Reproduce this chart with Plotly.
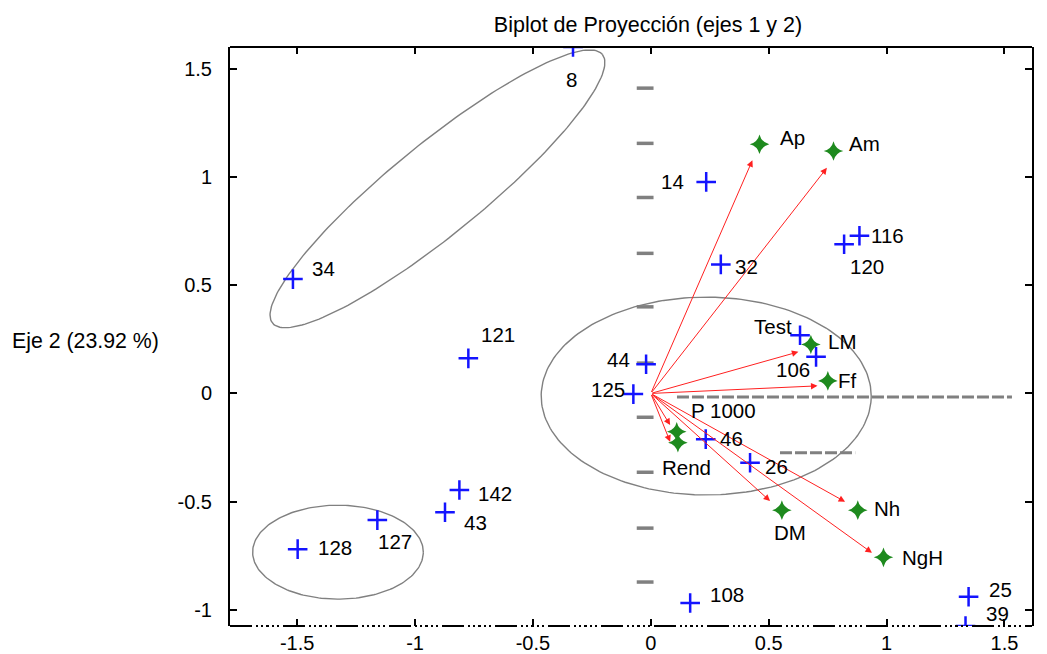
import numpy as np
import plotly.graph_objects as go

# ---------------- data ----------------
obs_labels = ["8", "34", "14", "32", "116", "120", "Test", "106", "44", "125",
              "46", "26", "108", "25", "39", "121", "142", "43", "127", "128"]
obs_x = [-0.33, -1.518, 0.235, 0.297, 0.885, 0.820, 0.633, 0.701, -0.020, -0.074,
         0.233, 0.421, 0.167, 1.348, 1.335, -0.774, -0.812, -0.873, -1.160, -1.498]
obs_y = [1.600, 0.528, 0.977, 0.596, 0.728, 0.689, 0.269, 0.169, 0.135, -0.003,
         -0.211, -0.320, -0.968, -0.939, -1.074, 0.162, -0.446, -0.549, -0.585, -0.719]

var_labels = ["Ap", "Am", "LM", "Ff", "P 1000", "Rend", "DM", "Nh", "NgH"]
var_x = [0.461, 0.775, 0.679, 0.751, 0.110, 0.115, 0.556, 0.878, 0.987]
var_y = [1.151, 1.120, 0.226, 0.058, -0.177, -0.228, -0.539, -0.539, -0.757]
arrow_x = [0.431, 0.747, 0.626, 0.707, 0.082, 0.082, 0.506, 0.824, 0.938]
arrow_y = [1.077, 1.042, 0.192, 0.035, -0.146, -0.223, -0.497, -0.500, -0.736]

guide_dash_x = -0.024
guide_dash_y = [1.41, 1.155, 0.905, 0.647, 0.40, 0.14, -0.11, -0.364, -0.622, -0.871]

x_ticks = [-1.5, -1, -0.5, 0, 0.5, 1, 1.5]
y_ticks = [-1, -0.5, 0, 0.5, 1, 1.5]

title_text = "Biplot de Proyección (ejes 1 y 2)"
ytitle_text = "Eje 2 (23.92 %)"

# ---------------- styling ----------------
FONT = "Liberation Sans, Arial, sans-serif"
GRAY = "#808080"
BLUE = "#1414ff"
GREEN = "#1e8a1e"
RED = "#ff2020"

# label offsets in pixels (dx right, dy down)
obs_off = [(-2, 32), (31, -11), (-34, 0), (26, 2), (28, 0), (23, 22), (-27, -9),
           (-23, 13), (-28, -5), (-25, -5), (26, -1), (26, 4), (37, -9), (32, -7),
           (32, -13), (30, -24), (36, 3), (30, 10), (18, 21), (37, -2)]
var_off = [(33, -7), (31, -7), (31, -3), (20, 0), (47, -21), (9, 25), (8, 22),
           (29, -2), (39, 0)]

fig = go.Figure()

# ellipses
def ellipse(cx, cy, ax_, ay_, bx_, by_):
    t = np.linspace(0, 2 * np.pi, 200)
    return cx + ax_ * np.cos(t) + bx_ * np.sin(t), cy + ay_ * np.cos(t) + by_ * np.sin(t)

for (cx, cy, a1, a2, b1, b2) in [(-0.905, 0.945, 0.70, 0.62, 0.12, -0.165),
                                 (0.235, -0.012, 0.700, 0.0, 0.0, 0.457),
                                 (-1.327, -0.733, 0.362, 0.0, 0.0, 0.217)]:
    ex, ey = ellipse(cx, cy, a1, a2, b1, b2)
    fig.add_trace(go.Scatter(x=ex, y=ey, mode="lines", line=dict(color=GRAY, width=1.4),
                             hoverinfo="skip", showlegend=False))

# vertical guide dashes
fig.add_trace(go.Scatter(x=[guide_dash_x] * len(guide_dash_y), y=guide_dash_y, mode="markers",
                         marker=dict(symbol="line-ew", size=12, line=dict(color=GRAY, width=3.5)),
                         hoverinfo="skip", showlegend=False))

# horizontal dashed guides
fig.add_shape(type="line", x0=0.111, x1=1.532, y0=-0.016, y1=-0.016, xref="x", yref="y",
              line=dict(color=GRAY, width=3, dash="12px,3px"))
fig.add_shape(type="line", x0=0.548, x1=0.867, y0=-0.274, y1=-0.274, xref="x", yref="y",
              line=dict(color=GRAY, width=3, dash="12px,3px"))

# arrows
for tx, ty in zip(arrow_x, arrow_y):
    fig.add_annotation(x=tx, y=ty, ax=0, ay=0, xref="x", yref="y", axref="x", ayref="y",
                       text="", showarrow=True, arrowhead=2, arrowsize=1.3, arrowwidth=1,
                       arrowcolor=RED)

# observations
fig.add_trace(go.Scatter(x=obs_x, y=obs_y, mode="markers",
                         marker=dict(symbol="cross-thin", size=14, color=BLUE,
                                     line=dict(color=BLUE, width=2.5)),
                         showlegend=False, hovertext=obs_labels))

# variables
fig.add_trace(go.Scatter(x=var_x, y=var_y, mode="markers",
                         marker=dict(symbol="star-diamond", size=14, color=GREEN,
                                     line=dict(width=0)),
                         showlegend=False, hovertext=var_labels))

for lab, x, y, (dx, dy) in zip(obs_labels, obs_x, obs_y, obs_off):
    fig.add_annotation(x=x, y=y, text=lab, showarrow=False, xshift=dx, yshift=-dy,
                       font=dict(family=FONT, size=20.5, color="black"))
for lab, x, y, (dx, dy) in zip(var_labels, var_x, var_y, var_off):
    fig.add_annotation(x=x, y=y, text=lab, showarrow=False, xshift=dx, yshift=-dy,
                       font=dict(family=FONT, size=20.5, color="black"))

# y axis title (horizontal)
fig.add_annotation(text=ytitle_text, xref="paper", yref="paper", x=-0.274, y=0.492,
                   xanchor="left", yanchor="middle", showarrow=False,
                   font=dict(family=FONT, size=21.3, color="black"))

# top solid and bottom dash-dot frame lines
fig.add_shape(type="line", xref="paper", yref="paper", x0=0, x1=1, y0=1, y1=1,
              line=dict(color="black", width=2))
fig.add_shape(type="line", xref="paper", yref="paper", x0=0, x1=1, y0=0, y1=0,
              line=dict(color="black", width=2,
                        dash="22px,4px,2px,3px,2px,3px,3px,3px,2px,3px,2px,4px"))

# page body has an 8px margin, so the figure is sized to the remaining viewport
fig.update_layout(
    width=1039, height=646,
    margin=dict(l=222, r=15, t=39, b=28, autoexpand=False),
    paper_bgcolor="white", plot_bgcolor="white",
    font=dict(family=FONT, size=20, color="black"),
    title=dict(text=title_text, x=0.616, xref="container", y=0.975, yref="container",
               xanchor="center", yanchor="middle",
               font=dict(family=FONT, size=21.5, color="black")),
    xaxis=dict(range=[-1.785, 1.617], tickvals=x_ticks, ticktext=[str(v) for v in x_ticks],
               showgrid=False, zeroline=False, showline=False, ticks="inside",
               ticklen=7, tickwidth=2, tickcolor="black", mirror="ticks", automargin=False,
               ticklabelstandoff=3, tickfont=dict(size=20)),
    yaxis=dict(range=[-1.074, 1.600], tickvals=y_ticks, ticktext=[str(v) for v in y_ticks],
               showgrid=False, zeroline=False, showline=True, linecolor="black",
               linewidth=2, ticks="inside", ticklen=7, tickwidth=2, tickcolor="black",
               mirror="ticks", automargin=False, ticklabelstandoff=12,
               tickfont=dict(size=20)),
)

fig.write_html("out.html")
